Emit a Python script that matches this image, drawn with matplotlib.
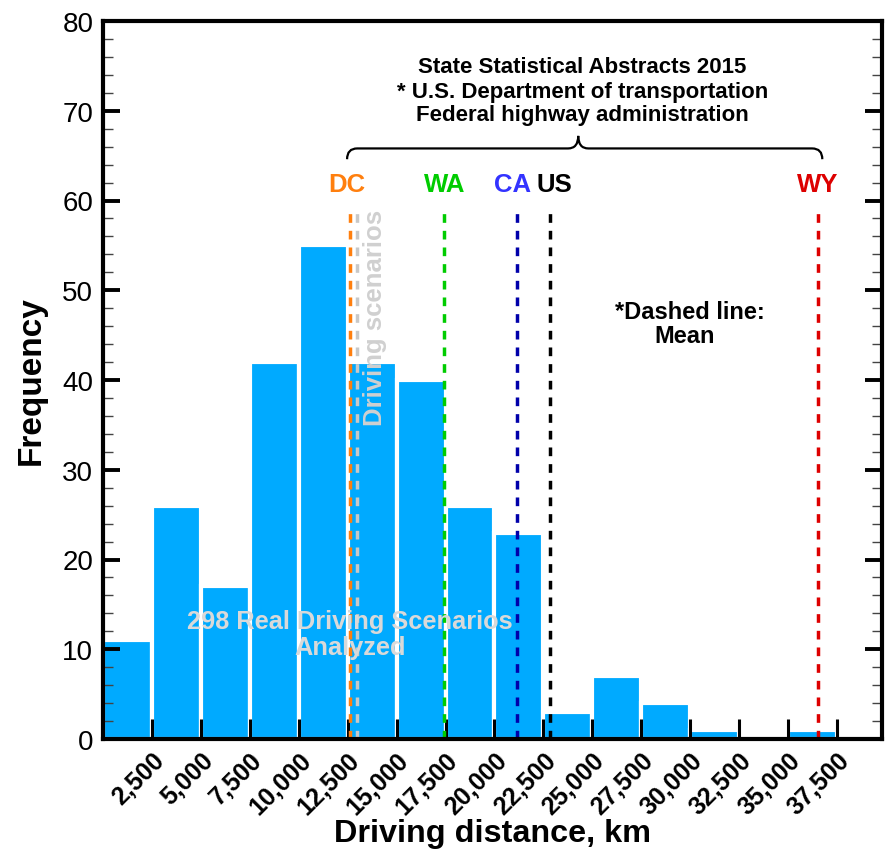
import matplotlib
matplotlib.use("Agg")
import matplotlib.pyplot as plt
from matplotlib.path import Path
from matplotlib.patches import PathPatch
from matplotlib.ticker import MultipleLocator, FuncFormatter

plt.rcParams['font.family'] = ['Liberation Sans', 'DejaVu Sans']

# ---- data ----
bin_edges = [0, 2500, 5000, 7500, 10000, 12500, 15000, 17500, 20000,
             22500, 25000, 27500, 30000, 32500, 35000]
frequencies = [11, 26, 17, 42, 55, 42, 40, 26, 23, 3, 7, 4, 1, 0, 1]
bin_width = 2500

state_names = ['DC', 'WA', 'CA', 'US', 'WY']
state_means = [12620, 17430, 21160, 22850, 36550]
state_label_x = [12470, 17480, 20900, 23050, 36500]
state_line_colors = ['#FF7F0E', '#00CC00', '#0000AA', '#000000', '#DD0000']
state_text_colors = ['#FF7F0E', '#00CC00', '#3333FF', '#000000', '#DD0000']

scenario_mean = 12980
tick_values = [2500 * i for i in range(1, 16)]

# ---- figure ----
fig = plt.figure(figsize=(8.85, 8.53), dpi=100)
ax = fig.add_axes([103 / 885, 1 - 740 / 853, (882 - 103) / 885, (740 - 22) / 853])

ax.bar(bin_edges, frequencies, width=bin_width, align='edge',
       color='#00AAFF', edgecolor='white', linewidth=3, zorder=1)

line_top = 59.4
for xv, c in zip(state_means, state_line_colors):
    ax.plot([xv, xv], [0, line_top], color=c, lw=2.5, dashes=(2.5, 2.3), zorder=3)
ax.plot([scenario_mean, scenario_mean], [0, line_top], color='#C8C8C8', lw=2.5,
        dashes=(2.5, 2.3), zorder=3)

for name, xv, c in zip(state_names, state_label_x, state_text_colors):
    ax.text(xv, 61.8, name, color=c, fontsize=18.5, fontweight='bold',
            ha='center', va='center')

# curly brace
x0, x1, xm = 12470, 36750, 24280
y0, y1, y2 = 64.6, 65.8, 67.2
r = 520
verts = [(x0, y0), (x0, y1), (x0 + r, y1), (xm - r, y1), (xm, y1), (xm, y2),
         (xm, y1), (xm + r, y1), (x1 - r, y1), (x1, y1), (x1, y0)]
codes = [Path.MOVETO, Path.CURVE3, Path.CURVE3, Path.LINETO, Path.CURVE3, Path.CURVE3,
         Path.CURVE3, Path.CURVE3, Path.LINETO, Path.CURVE3, Path.CURVE3]
ax.add_patch(PathPatch(Path(verts, codes), facecolor='none', edgecolor='black', lw=1.6))

hdr_fs = 16
ax.text(24480, 74.9, 'State Statistical Abstracts 2015', fontsize=hdr_fs,
        fontweight='bold', ha='center', va='center')
ax.text(24480, 72.1, '* U.S. Department of transportation', fontsize=hdr_fs,
        fontweight='bold', ha='center', va='center')
ax.text(24480, 69.6, 'Federal highway administration', fontsize=hdr_fs,
        fontweight='bold', ha='center', va='center')

ax.text(30000, 47.6, '*Dashed line:', fontsize=17, fontweight='bold',
        ha='center', va='center')
ax.text(29700, 45.0, 'Mean', fontsize=17, fontweight='bold',
        ha='center', va='center')

ax.text(13900, 47.0, 'Driving scenarios', fontsize=18.5, fontweight='bold',
        color='#D0D0D0', rotation=90, ha='center', va='center', zorder=4)
ax.text(12600, 13.1, '298 Real Driving Scenarios', fontsize=18.3, fontweight='bold',
        color='#D9D9D9', ha='center', va='center', zorder=4)
ax.text(12600, 10.2, 'Analyzed', fontsize=18.3, fontweight='bold',
        color='#D9D9D9', ha='center', va='center', zorder=4)

# axes
ax.set_xlim(0, 39800)
ax.set_ylim(0, 80)
ax.set_xticks(tick_values)
ax.xaxis.set_major_formatter(FuncFormatter(lambda v, p: f'{int(v):,}'))
ax.yaxis.set_major_locator(MultipleLocator(10))
ax.yaxis.set_minor_locator(MultipleLocator(2))

for s in ax.spines.values():
    s.set_linewidth(3)
    s.set_zorder(5)

ax.tick_params(axis='x', which='major', direction='in', length=14.5, width=2.2,
               bottom=True, top=False, pad=6)
ax.tick_params(axis='y', which='major', direction='in', length=12, width=2.8,
               left=True, right=True, labelsize=20, pad=7)
ax.tick_params(axis='y', which='minor', direction='in', length=7, width=1,
               left=True, right=True, color='#444444')

for lab in ax.get_xticklabels():
    lab.set_rotation(45)
    lab.set_ha('right')
    lab.set_rotation_mode('anchor')
    lab.set_fontweight('bold')
    lab.set_fontsize(18)

ax.set_xlabel('Driving distance, km', fontsize=23.3, fontweight='bold', labelpad=0)
ax.set_ylabel('Frequency', fontsize=24, fontweight='bold', labelpad=11)

fig.savefig('out.png', dpi=100)
